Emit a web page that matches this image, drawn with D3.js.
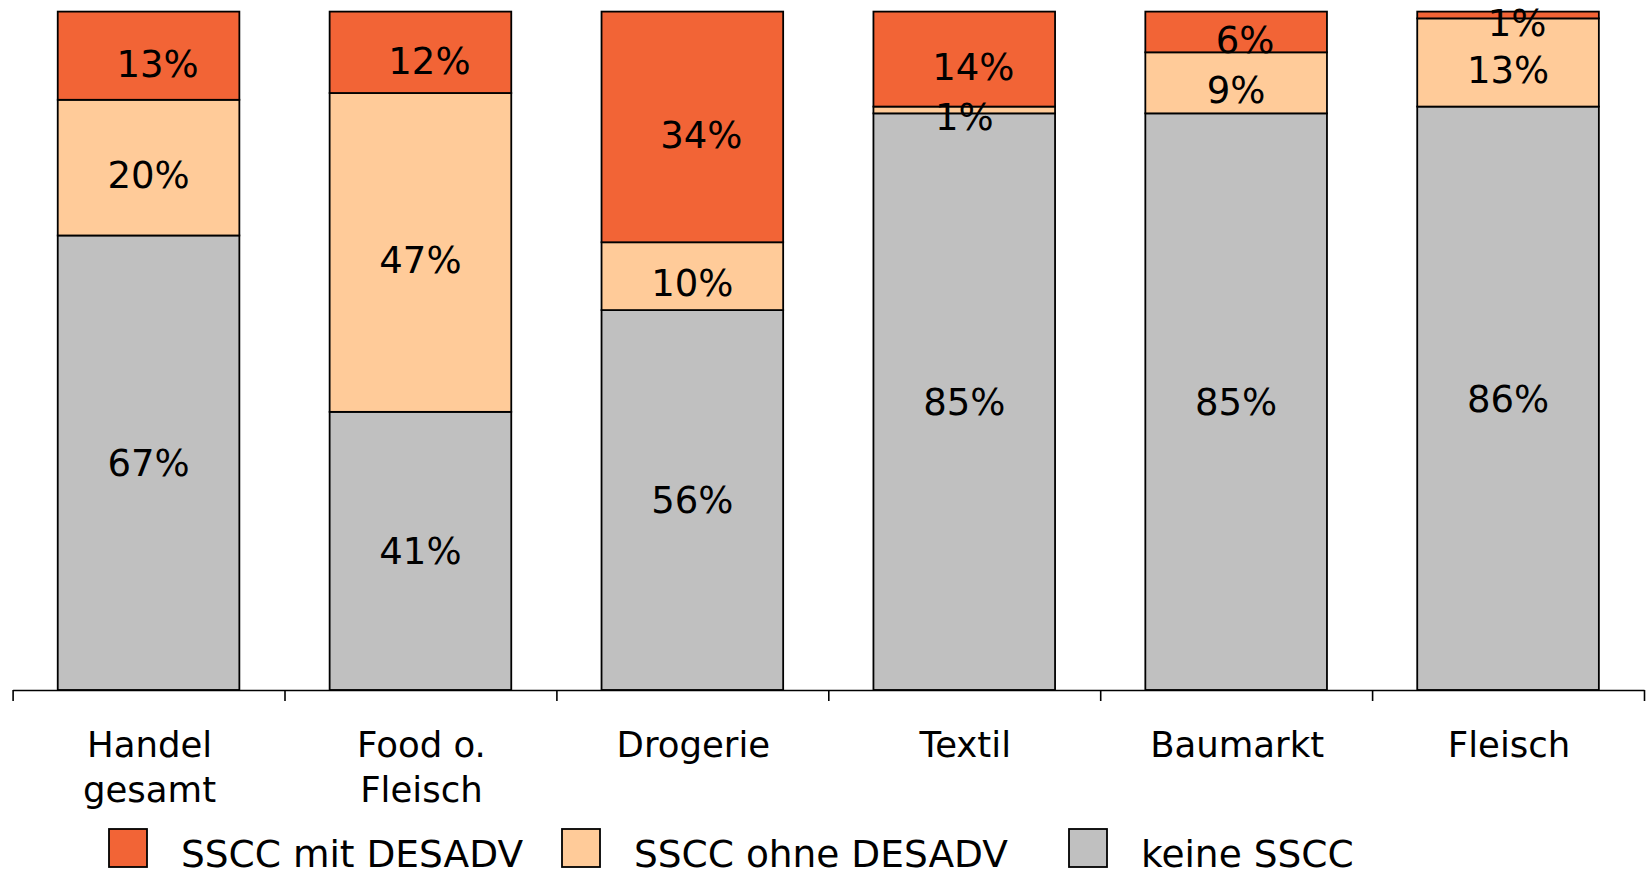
<!DOCTYPE html>
<html>
<head>
<meta charset="utf-8">
<script src="https://cdn.jsdelivr.net/npm/d3@7"></script>
<style>
  html, body { margin: 0; padding: 0; background: #fff; }
  svg { display: block; }
  text { font-family: "DejaVu Sans", Verdana, sans-serif; fill: #000; }
</style>
</head>
<body>
<svg id="chart" width="1647" height="876"></svg>
<script>
// ---- data ----
const categories = ["Handel\ngesamt", "Food o.\nFleisch", "Drogerie", "Textil", "Baumarkt", "Fleisch"];
const seriesNames = ["keine SSCC", "SSCC ohne DESADV", "SSCC mit DESADV"];
const keineSSCC      = [67, 41, 56, 85, 85, 86];
const ssccOhneDesadv = [20, 47, 10, 1, 9, 13];
const ssccMitDesadv  = [13, 12, 34, 14, 6, 1];
const legendOrder = ["SSCC mit DESADV", "SSCC ohne DESADV", "keine SSCC"];

// ---- layout / style ----
const W = 1647, H = 876;
const axisLeft = 12.6, axisRight = 1644;
const plotTop = 11.6, baseline = 690;
const colors = { "keine SSCC": "#c0c0c0", "SSCC ohne DESADV": "#ffcb99", "SSCC mit DESADV": "#f26436" };
const labelNudge = { "keine SSCC": [0, 0], "SSCC ohne DESADV": [0, 7], "SSCC mit DESADV": [9, 8] };
const legendX = [109, 562, 1069];
const legendBase = 867;

const valuesBySeries = {
  "keine SSCC": keineSSCC,
  "SSCC ohne DESADV": ssccOhneDesadv,
  "SSCC mit DESADV": ssccMitDesadv
};

const table = categories.map((c, i) => {
  const row = { cat: c };
  seriesNames.forEach(s => row[s] = valuesBySeries[s][i]);
  return row;
});

const stack = d3.stack().keys(seriesNames)(table);

const svg = d3.select("#chart");

const x = d3.scaleBand()
  .domain(categories)
  .range([axisLeft, axisRight])
  .paddingInner(0.332)
  .paddingOuter(0.166);

const xIdx = d3.scaleLinear().domain([0, categories.length]).range([axisLeft, axisRight]);

const y = d3.scaleLinear().domain([0, 100]).range([baseline, plotTop]);

// bars
const g = svg.append("g");
stack.forEach(layer => {
  const key = layer.key;
  g.append("g")
    .selectAll("rect")
    .data(layer)
    .join("rect")
    .attr("x", d => x(d.data.cat))
    .attr("width", x.bandwidth())
    .attr("y", d => y(d[1]))
    .attr("height", d => y(d[0]) - y(d[1]))
    .attr("fill", colors[key])
    .attr("stroke", "#000")
    .attr("stroke-width", 1.8);
});

// data labels
stack.forEach(layer => {
  const key = layer.key;
  const [dx, dy] = labelNudge[key];
  g.append("g")
    .selectAll("text")
    .data(layer)
    .join("text")
    .attr("x", d => x(d.data.cat) + x.bandwidth() / 2 + dx)
    .attr("y", d => (y(d[0]) + y(d[1])) / 2 + dy)
    .attr("dy", "0.36em")
    .attr("text-anchor", "middle")
    .style("font-size", "37px")
    .text(d => (d[1] - d[0]) + "%");
});

// axis with boundary ticks
const axis = svg.append("g")
  .attr("transform", `translate(0,${baseline})`)
  .call(d3.axisBottom(xIdx).tickValues(d3.range(categories.length + 1)).tickFormat("").tickSize(11).tickSizeOuter(0));
axis.select(".domain").attr("stroke", "#000").attr("stroke-width", 1.6);
axis.selectAll(".tick line").attr("stroke", "#000").attr("stroke-width", 1.6);

// category labels
const catG = svg.append("g");
categories.forEach(c => {
  const t = catG.append("text")
    .attr("x", x(c) + x.bandwidth() / 2 + 1)
    .attr("y", 757)
    .attr("text-anchor", "middle")
    .style("font-size", "35.5px");
  c.split("\n").forEach((line, i) => {
    t.append("tspan")
      .attr("x", x(c) + x.bandwidth() / 2 + 1)
      .attr("dy", i === 0 ? 0 : 44.5)
      .text(line);
  });
});

// legend
const leg = svg.append("g");
legendOrder.forEach((s, i) => {
  const lx = legendX[i];
  leg.append("rect")
    .attr("x", lx).attr("y", legendBase - 38)
    .attr("width", 38).attr("height", 38)
    .attr("fill", colors[s])
    .attr("stroke", "#000").attr("stroke-width", 1.8);
  leg.append("text")
    .attr("x", lx + 72).attr("y", legendBase)
    .style("font-size", "37.5px")
    .text(s);
});
</script>
</body>
</html>
